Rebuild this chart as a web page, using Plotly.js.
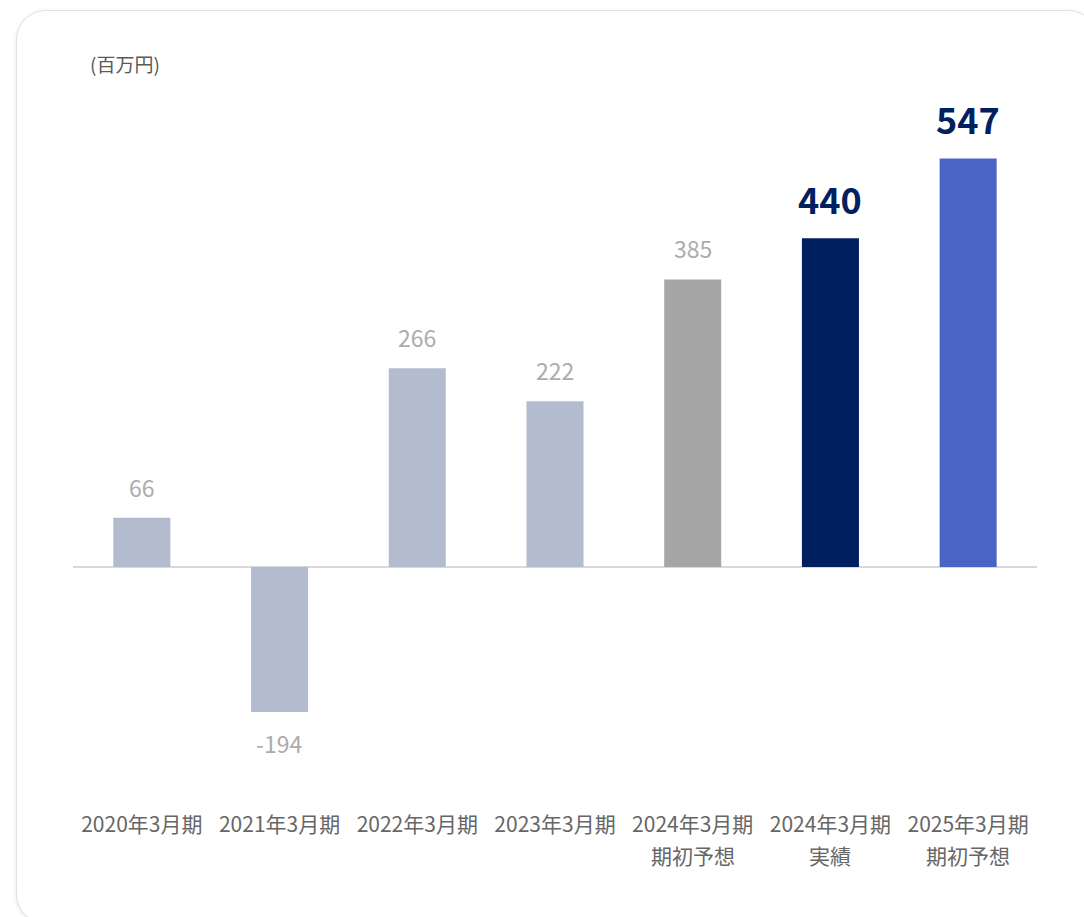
<!DOCTYPE html>
<html>
<head>
<meta charset="utf-8">
<script src="https://cdn.plot.ly/plotly-3.0.1.min.js"></script>
<style>
  html, body { margin: 0; padding: 0; background: #ffffff; overflow: hidden; }
  #card {
    position: absolute; left: 16px; top: 10px; width: 1080px; height: 912px;
    border-radius: 30px; border: 1px solid #e2e2e2;
    box-shadow: 0 1px 4px rgba(0,0,0,0.10);
    background: #ffffff;
  }
  #chart { position: absolute; left: 0; top: 0; width: 1084px; height: 917px; }
</style>
</head>
<body>
<div id="card"></div>
<div id="chart"></div>
<script>
// ---- data ----
const categories = ["2020年3月期", "2021年3月期", "2022年3月期", "2023年3月期", "2024年3月期 期初予想", "2024年3月期 実績", "2025年3月期 期初予想"];
const yearLabels = ["2020年3月期", "2021年3月期", "2022年3月期", "2023年3月期", "2024年3月期", "2024年3月期", "2025年3月期"];
const subLabels = ["", "", "", "", "期初予想", "実績", "期初予想"];
const values = [66, -194, 266, 222, 385, 440, 547];
const unitLabel = "(百万円)";

// ---- styles ----
const barColors = ["#b3bbce", "#b3bbce", "#b3bbce", "#b3bbce", "#a6a6a6", "#001f5f", "#4a64c6"];
const emphasized = [false, false, false, false, false, true, true];
const FONT = '"Noto Sans CJK JP", "Noto Sans", sans-serif';

const trace = {
  type: "bar",
  x: categories,
  y: values,
  marker: { color: barColors },
  hoverinfo: "none",
  cliponaxis: false
};

const annotations = [];
values.forEach((v, i) => {
  const big = emphasized[i];
  const shift = big ? 40 : 31;
  annotations.push({
    x: categories[i], y: v, xref: "x", yref: "y",
    text: String(v), showarrow: false,
    xanchor: "center", yanchor: "middle",
    yshift: v >= 0 ? shift : -shift,
    font: big ? { family: FONT, size: 36, color: "#002060", weight: 700 }
              : { family: FONT, size: 23, color: "#acacac" }
  });
});
subLabels.forEach((s, i) => {
  if (!s) return;
  annotations.push({
    x: categories[i], y: 0, xref: "x", yref: "paper",
    text: s, showarrow: false, xanchor: "center", yanchor: "middle",
    yshift: -75,
    font: { family: FONT, size: 21, color: "#666666" }
  });
});
annotations.push({
  x: 0.0155, y: 1.054, xref: "paper", yref: "paper",
  text: unitLabel, showarrow: false, xanchor: "left", yanchor: "middle",
  font: { family: FONT, size: 19, color: "#595959" }
});

const layout = {
  width: 1084, height: 917,
  margin: { l: 73, r: 47, t: 100, b: 137 },
  paper_bgcolor: "rgba(0,0,0,0)",
  plot_bgcolor: "rgba(0,0,0,0)",
  showlegend: false,
  bargap: 0.586,
  font: { family: FONT, color: "#595959" },
  xaxis: {
    type: "category",
    tickmode: "array", tickvals: categories, ticktext: yearLabels,
    showgrid: false, showline: false, zeroline: false, ticks: "",
    ticklabelstandoff: 30,
    tickfont: { family: FONT, size: 21, color: "#666666" }
  },
  yaxis: {
    range: [-285.1, 625.2],
    showgrid: false, showticklabels: false, ticks: "",
    zeroline: true, zerolinecolor: "#d9d9d9", zerolinewidth: 2,
    showline: false
  },
  annotations: annotations
};

Plotly.newPlot("chart", [trace], layout, { displayModeBar: false, staticPlot: true });
</script>
</body>
</html>
